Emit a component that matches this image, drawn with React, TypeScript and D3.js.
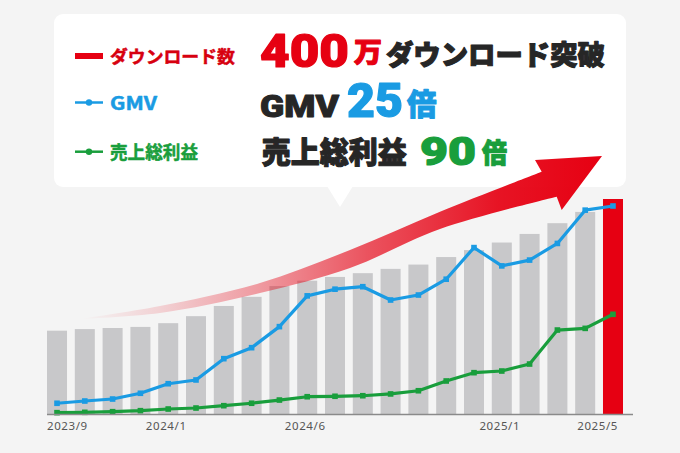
import { useEffect, useRef } from "react"
import * as d3 from "d3"

// monthly series, Sep 2023 - May 2025
const months = [
  "2023/9", "2023/10", "2023/11", "2023/12",
  "2024/1", "2024/2", "2024/3", "2024/4", "2024/5", "2024/6",
  "2024/7", "2024/8", "2024/9", "2024/10", "2024/11", "2024/12",
  "2025/1", "2025/2", "2025/3", "2025/4", "2025/5",
]
// cumulative downloads (万)
const downloads = [155, 158, 160, 162, 169, 182, 201, 218, 238, 248, 255, 262, 270, 278, 292, 305, 319, 335, 355, 376, 400]
// GMV, index vs first month
const gmv = [1.29, 1.56, 1.8, 2.49, 3.64, 4.09, 6.65, 7.97, 10.5, 14.2, 15.0, 15.3, 13.7, 14.3, 16.2, 20.0, 17.8, 18.5, 20.5, 24.5, 25.0]
// gross profit, index vs first month
const grossProfit = [1.2, 1.5, 2.1, 3.0, 4.5, 5.4, 7.5, 9.7, 12.6, 15.6, 16.0, 16.5, 18.1, 21.0, 29.8, 37.3, 38.8, 45.1, 75.8, 77.3, 90.0]
const tickMonths = ["2023/9", "2024/1", "2024/6", "2025/1", "2025/5"]

const RED = "#e60012"
const BLUE = "#1a9be3"
const GREEN = "#199e3c"
const DARK = "#262626"
const JP = "'Noto Sans CJK JP', 'Noto Sans', sans-serif"
// latin digits: Roboto has a much smaller line box than the CJK font
const LATIN = "Roboto, 'Noto Sans', sans-serif"

type Piece = {
  t: string; x: number; y: number; size: number; color: string
  w: number; weight: number; sw: number; font: string
}

export default function App() {
  const svgRef = useRef<SVGSVGElement>(null)

  useEffect(() => {
    if (!svgRef.current) return
    document.body.style.margin = "0"

    const width = 680
    const height = 453
    const svg = d3.select(svgRef.current)
    svg.selectAll("*").remove()
    svg.attr("width", width).attr("height", height).attr("viewBox", [0, 0, width, height])

    const baseY = 414

    // scales
    const x = d3.scaleBand().domain(months).range([47, 623]).paddingInner(0.28).paddingOuter(0)
    const yBar = d3.scaleLinear().domain([0, 400]).range([baseY, 199])
    const yGmv = d3.scaleLinear().domain([0, 25]).range([baseY, 206])
    const yGp = d3.scaleLinear().domain([0, 90]).range([baseY, 314.3])
    const cx = (m: string) => (x(m) ?? 0) + x.bandwidth() / 2

    // background
    svg.append("rect").attr("width", width).attr("height", height).attr("fill", "#f4f4f4")

    // callout box
    svg.append("rect")
      .attr("x", 54).attr("y", 14).attr("width", 572).attr("height", 173)
      .attr("rx", 9).attr("fill", "#ffffff")
    svg.append("path").attr("d", "M327,186 L353,186 L340,207 Z").attr("fill", "#ffffff")

    // legend marks
    const legend = svg.append("g")
    legend.append("rect").attr("x", 75).attr("y", 53).attr("width", 28).attr("height", 6).attr("fill", RED)
    const legendLines = [
      { color: BLUE, y: 102.5 },
      { color: GREEN, y: 151.7 },
    ]
    legendLines.forEach((d) => {
      legend.append("line")
        .attr("x1", 75).attr("x2", 103).attr("y1", d.y).attr("y2", d.y)
        .attr("stroke", d.color).attr("stroke-width", 2.5)
      legend.append("circle").attr("cx", 89).attr("cy", d.y).attr("r", 3.2).attr("fill", d.color)
    })

    // texts in the callout, each stretched to the width it has in the picture
    const pieces: Piece[] = [
      { t: "ダウンロード数", x: 110, y: 63, size: 17.5, color: "#d7000f", w: 125, weight: 700, sw: 0.5, font: JP },
      { t: "GMV", x: 110, y: 110, size: 18, color: BLUE, w: 47, weight: 700, sw: 0.5, font: JP },
      { t: "売上総利益", x: 110, y: 158.5, size: 18, color: GREEN, w: 88, weight: 700, sw: 0.5, font: JP },
      { t: "400", x: 260, y: 66.7, size: 46, color: RED, w: 89, weight: 900, sw: 1.2, font: LATIN },
      { t: "万", x: 354, y: 61.7, size: 27, color: RED, w: 28, weight: 900, sw: 1.1, font: JP },
      { t: "ダウンロード突破", x: 386, y: 64.5, size: 27.5, color: DARK, w: 219, weight: 900, sw: 1.1, font: JP },
      { t: "GMV", x: 260, y: 116.7, size: 32, color: DARK, w: 79, weight: 900, sw: 1, font: LATIN },
      { t: "25", x: 347, y: 116.7, size: 48, color: BLUE, w: 56, weight: 900, sw: 1.2, font: LATIN },
      { t: "倍", x: 407, y: 114.7, size: 30, color: BLUE, w: 29.5, weight: 900, sw: 1.1, font: JP },
      { t: "売上総利益", x: 261.7, y: 162.8, size: 30, color: DARK, w: 145, weight: 900, sw: 1.1, font: JP },
      { t: "90", x: 420, y: 165, size: 39, color: GREEN, w: 56, weight: 900, sw: 1.2, font: LATIN },
      { t: "倍", x: 482, y: 163, size: 27, color: GREEN, w: 25, weight: 900, sw: 1.1, font: JP },
    ]
    const head = svg.append("g").attr("stroke-linejoin", "round")
    pieces.forEach((p) => {
      const text = head.append("text")
        .attr("x", 0).attr("y", 0)
        .attr("font-family", p.font)
        .attr("font-size", p.size).attr("font-weight", p.weight)
        .attr("fill", p.color).attr("stroke", p.color).attr("stroke-width", p.sw)
        .text(p.t)
      const natural = (text.node() as SVGTextElement).getComputedTextLength() || p.w
      text.attr("transform", `translate(${p.x},${p.y}) scale(${p.w / natural},1)`)
    })

    // bars
    svg.append("g").selectAll("rect")
      .data(months)
      .join("rect")
      .attr("x", (m) => x(m) ?? 0)
      .attr("width", x.bandwidth())
      .attr("y", (_, i) => yBar(downloads[i]))
      .attr("height", (_, i) => baseY - yBar(downloads[i]))
      .attr("fill", (_, i) => (i === months.length - 1 ? RED : "#c8c8ca"))

    // growth arrow
    const defs = svg.append("defs")
    const grad = defs.append("linearGradient")
      .attr("id", "arrowGrad").attr("gradientUnits", "userSpaceOnUse")
      .attr("x1", 80).attr("x2", 602).attr("y1", 0).attr("y2", 0)
    const stops: [number, number][] = [[0, 0], [0.15, 0.14], [0.35, 0.38], [0.55, 0.66], [0.8, 0.92], [1, 1]]
    stops.forEach(([o, a]) => {
      grad.append("stop").attr("offset", o).attr("stop-color", RED).attr("stop-opacity", a)
    })
    const edge = d3.line<[number, number]>().curve(d3.curveCatmullRom.alpha(0.5))
    const upper: [number, number][] = [[80, 319], [160, 306], [260, 283], [350, 250], [440, 211.7], [541.7, 171.7]]
    const lower: [number, number][] = [[556.7, 196.7], [440, 229], [350, 268], [260, 293], [160, 313], [80, 319]]
    const arrowPath =
      edge(upper) +
      "L535,160 L602,156 L561.7,210 " +
      (edge(lower) ?? "").replace(/^M/, "L") +
      "Z"
    svg.append("path").attr("d", arrowPath).attr("fill", "url(#arrowGrad)")

    // lines
    const series = [
      { values: gmv, y: yGmv, color: BLUE },
      { values: grossProfit, y: yGp, color: GREEN },
    ]
    series.forEach((s) => {
      const line = d3.line<number>()
        .x((_, i) => cx(months[i]))
        .y((v) => s.y(v))
      const g = svg.append("g")
      g.append("path")
        .attr("d", line(s.values))
        .attr("fill", "none").attr("stroke", s.color)
        .attr("stroke-width", 3.2).attr("stroke-linejoin", "round")
      g.selectAll("rect")
        .data(s.values)
        .join("rect")
        .attr("x", (_, i) => cx(months[i]) - 2.8)
        .attr("y", (v) => s.y(v) - 2.8)
        .attr("width", 5.6).attr("height", 5.6)
        .attr("fill", s.color)
    })

    // axis
    svg.append("line")
      .attr("x1", 47).attr("x2", 633).attr("y1", baseY + 0.5).attr("y2", baseY + 0.5)
      .attr("stroke", "#8a8a8a").attr("stroke-width", 1.5)

    svg.append("g").selectAll("text")
      .data(tickMonths)
      .join("text")
      .attr("x", (m, i) => {
        if (i === 0) return x(m) ?? 0
        if (i === tickMonths.length - 1) return (x(m) ?? 0) + x.bandwidth() - 5
        return cx(m) - 2
      })
      .attr("y", 430)
      .attr("text-anchor", (_, i) => (i === 0 ? "start" : i === tickMonths.length - 1 ? "end" : "middle"))
      .attr("font-family", "'Noto Sans', sans-serif").attr("font-size", 11.5)
      .attr("letter-spacing", 0.6).attr("fill", "#555")
      .text((m) => m)
  }, [])

  return <svg ref={svgRef} style={{ display: "block" }} />
}
